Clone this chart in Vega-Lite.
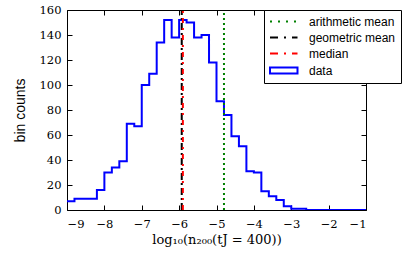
{
  "$schema": "https://vega.github.io/schema/vega-lite/v6.json",
  "autosize": "none",
  "width": 299,
  "height": 200,
  "padding": {"left": 67, "top": 10, "right": 49, "bottom": 47},
  "background": "white",
  "config": {
    "view": {"stroke": "black", "strokeWidth": 1},
    "axis": {
      "grid": false,
      "domain": false,
      "tickColor": "black",
      "tickSize": -5,
      "tickWidth": 1,
      "labelColor": "black",
      "titleColor": "black"
    },
    "legend": {
      "orient": "none",
      "legendX": 197,
      "legendY": 0,
      "strokeColor": "black",
      "fillColor": "white",
      "cornerRadius": 0,
      "padding": 5,
      "rowPadding": 3,
      "labelFont": "Liberation Sans",
      "labelFontSize": 12,
      "labelColor": "black",
      "labelOffset": 27,
      "symbolSize": 121,
      "symbolType": "stroke"
    }
  },
  "resolve": {"axis": {"x": "independent", "y": "independent"}},
  "layer": [
    {
      "data": {"values": [
        {"bin": -9.0, "count": 7}, {"bin": -8.8, "count": 9}, {"bin": -8.6, "count": 9}, {"bin": -8.4, "count": 9},
        {"bin": -8.2, "count": 16}, {"bin": -8.0, "count": 30}, {"bin": -7.8, "count": 34}, {"bin": -7.6, "count": 39},
        {"bin": -7.4, "count": 69}, {"bin": -7.2, "count": 67}, {"bin": -7.0, "count": 100}, {"bin": -6.8, "count": 109},
        {"bin": -6.6, "count": 134}, {"bin": -6.4, "count": 152}, {"bin": -6.2, "count": 138}, {"bin": -6.0, "count": 152},
        {"bin": -5.8, "count": 150}, {"bin": -5.6, "count": 138}, {"bin": -5.4, "count": 140}, {"bin": -5.2, "count": 118},
        {"bin": -5.0, "count": 87}, {"bin": -4.8, "count": 76}, {"bin": -4.6, "count": 59}, {"bin": -4.4, "count": 51},
        {"bin": -4.2, "count": 31}, {"bin": -4.0, "count": 30}, {"bin": -3.8, "count": 15}, {"bin": -3.6, "count": 11},
        {"bin": -3.4, "count": 8}, {"bin": -3.2, "count": 3}, {"bin": -3.0, "count": 1}, {"bin": -2.8, "count": 1},
        {"bin": -2.6, "count": 0}, {"bin": -2.4, "count": 0}, {"bin": -2.2, "count": 0}, {"bin": -2.0, "count": 0},
        {"bin": -1.8, "count": 0}, {"bin": -1.6, "count": 0}, {"bin": -1.4, "count": 0}, {"bin": -1.2, "count": 0},
        {"bin": -1.0, "count": 0}
      ]},
      "mark": {"type": "line", "interpolate": "step-after", "strokeWidth": 2, "clip": true},
      "encoding": {
        "x": {
          "field": "bin", "type": "quantitative",
          "scale": {"domain": [-9, -1], "nice": false, "zero": false},
          "axis": {
            "orient": "bottom", "values": [-9, -8, -7, -6, -5, -4, -3, -2, -1],
            "labelExpr": "replace(datum.label, '-', '\u2212')",
            "labelFont": "DejaVu Serif", "labelFontSize": 11.5,
            "labelPadding": 13,
            "title": "log\u2081\u2080(n\u2082\u2080\u2080(tJ = 400))",
            "titleFont": "DejaVu Serif", "titleFontSize": 13, "titleFontWeight": "normal", "titlePadding": 4
          }
        },
        "y": {
          "field": "count", "type": "quantitative",
          "scale": {"domain": [0, 160], "nice": false},
          "axis": {
            "orient": "left", "values": [0, 20, 40, 60, 80, 100, 120, 140, 160],
            "labelFont": "DejaVu Serif", "labelFontSize": 11.5,
            "labelPadding": 11,
            "title": "bin counts",
            "titleFont": "Liberation Sans", "titleFontSize": 14, "titleFontWeight": "normal", "titlePadding": 12
          }
        },
        "color": {
          "datum": "data",
          "scale": {
            "domain": ["arithmetic mean", "geometric mean", "median", "data"],
            "range": ["#008000", "#000000", "#ff0000", "#0000ff"]
          },
          "legend": {
            "title": null,
            "encode": {
              "symbols": {
                "update": {
                  "shape": {"signal": "datum.value === 'data' ? 'M-1,-0.55H4V0.55H-1Z' : 'M-1,0H4'"},
                  "strokeDash": {"signal": "datum.value === 'arithmetic mean' ? [2,6] : datum.value === 'data' ? [1,0] : [8,6,2,6]"},
                  "fill": {"value": "transparent"},
                  "fillOpacity": {"value": 0},
                  "strokeWidth": {"value": 2},
                  "stroke": {"scale": "color", "field": "value"}
                }
              }
            }
          }
        }
      }
    },
    {
      "data": {"values": [
        {"series": "arithmetic mean", "x": -4.8},
        {"series": "geometric mean", "x": -5.93},
        {"series": "median", "x": -5.9}
      ]},
      "mark": {"type": "rule", "strokeWidth": 2},
      "encoding": {
        "x": {
          "field": "x", "type": "quantitative",
          "axis": {"orient": "top", "values": [-9, -8, -7, -6, -5, -4, -3, -2, -1], "labels": false, "title": null}
        },
        "y": {
          "datum": 0, "type": "quantitative",
          "axis": {"orient": "right", "values": [0, 20, 40, 60, 80, 100, 120, 140, 160], "labels": false, "title": null}
        },
        "y2": {"datum": 160},
        "color": {
          "field": "series", "type": "nominal",
          "legend": {
            "title": null,
            "encode": {
              "symbols": {
                "update": {
                  "shape": {"signal": "datum.value === 'data' ? 'M-1,-0.55H4V0.55H-1Z' : 'M-1,0H4'"},
                  "strokeDash": {"signal": "datum.value === 'arithmetic mean' ? [2,6] : datum.value === 'data' ? [1,0] : [8,6,2,6]"},
                  "fill": {"value": "transparent"},
                  "fillOpacity": {"value": 0},
                  "strokeWidth": {"value": 2},
                  "stroke": {"scale": "color", "field": "value"}
                }
              }
            }
          }
        },
        "strokeDash": {
          "field": "series", "type": "nominal",
          "scale": {
            "domain": ["arithmetic mean", "geometric mean", "median"],
            "range": [[2, 3], [7, 3, 2, 3], [5, 5, 2, 5]]
          },
          "legend": null
        }
      }
    }
  ]
}
